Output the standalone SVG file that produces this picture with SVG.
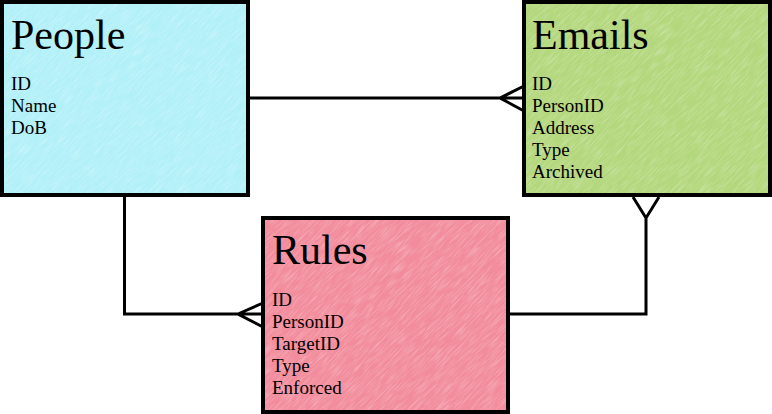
<svg xmlns="http://www.w3.org/2000/svg" width="772" height="414" viewBox="0 0 772 414">
<style>
.box{stroke:#000;stroke-width:4}
.title{font-family:"Liberation Serif","DejaVu Serif",serif;font-size:42px;fill:#000}
.field{font-family:"Liberation Serif","DejaVu Serif",serif;font-size:19px;fill:#000}
.conn{fill:none;stroke:#000;stroke-width:3;stroke-linejoin:miter}
.tex{fill:#fff;opacity:0.45}
</style>
<defs>
<filter id="pencil" x="0" y="0" width="100%" height="100%">
<feTurbulence type="fractalNoise" baseFrequency="0.9 0.06" numOctaves="2" seed="3" result="n"/>
<feColorMatrix in="n" type="matrix" values="0 0 0 0 1  0 0 0 0 1  0 0 0 0 1  0 0 0 1.6 -0.7" result="w"/>
<feComposite in="w" in2="SourceGraphic" operator="in"/>
</filter>
<clipPath id="cpPeople"><rect x="4" y="4" width="242" height="189"/></clipPath>
<clipPath id="cpEmails"><rect x="526" y="4" width="242" height="189"/></clipPath>
<clipPath id="cpRules"><rect x="265" y="220" width="241" height="190"/></clipPath>
</defs>
<rect width="772" height="414" fill="#fff"/>
<g id="connectors">
<path class="conn" d="M250,98 H524 M524,86 L500,98 L524,111"/>
<path class="conn" d="M124.5,197 V314 H263 M263,303 L238,314 L263,327"/>
<path class="conn" d="M510,314 H646 V218 M633,197 L646,218 L659,197"/>
</g>
<g id="people">
<rect class="box" x="2" y="2" width="246" height="193" fill="#b2f0f8"/>
<g clip-path="url(#cpPeople)"><rect class="tex" x="-200" y="-200" width="400" height="400" filter="url(#pencil)" transform="translate(125,98) rotate(45)"/></g>
<text class="title" x="11" y="49">People</text>
<text class="field" x="11" y="90">ID</text>
<text class="field" x="11" y="112">Name</text>
<text class="field" x="11" y="134">DoB</text>
</g>
<g id="emails">
<rect class="box" x="524" y="2" width="246" height="193" fill="#b3d77c"/>
<g clip-path="url(#cpEmails)"><rect class="tex" x="-200" y="-200" width="400" height="400" filter="url(#pencil)" transform="translate(647,98) rotate(45)"/></g>
<text class="title" x="532" y="49">Emails</text>
<text class="field" x="532" y="90">ID</text>
<text class="field" x="532" y="112">PersonID</text>
<text class="field" x="532" y="134">Address</text>
<text class="field" x="532" y="156">Type</text>
<text class="field" x="532" y="178">Archived</text>
</g>
<g id="rules">
<rect class="box" x="263" y="218" width="245" height="194" fill="#f28c9c"/>
<g clip-path="url(#cpRules)"><rect class="tex" x="-200" y="-200" width="400" height="400" filter="url(#pencil)" transform="translate(385,315) rotate(45)"/></g>
<text class="title" x="272" y="264">Rules</text>
<text class="field" x="272" y="306">ID</text>
<text class="field" x="272" y="328">PersonID</text>
<text class="field" x="272" y="350">TargetID</text>
<text class="field" x="272" y="372">Type</text>
<text class="field" x="272" y="394">Enforced</text>
</g>
</svg>
